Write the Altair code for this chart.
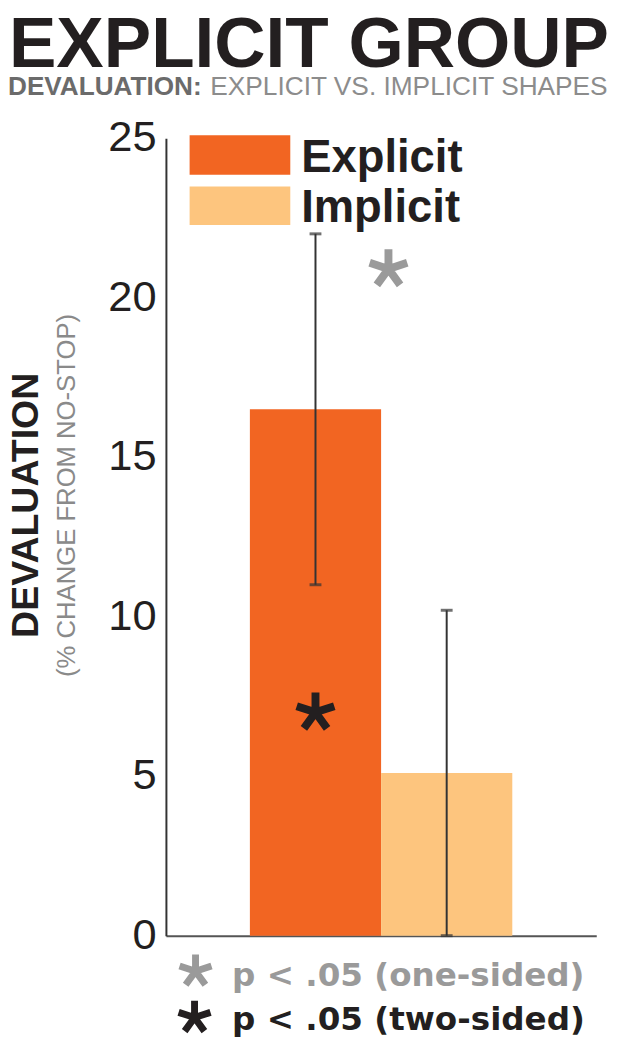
import altair as alt
import pandas as pd

# ---- data ----
conditions = ["Explicit", "Implicit"]
means = [16.5, 5.1]
err_low = [11.0, 0.0]
err_high = [22.0, 10.2]
bar_colors = ["#f26522", "#fdc57e"]
y_ticks = [0, 5, 10, 15, 20, 25]

star_conditions = ["Implicit", "Explicit"]
star_values = [20.9, 7.0]
star_colors = ["#9a9a9a", "#231f20"]
star_offsets = [-59, 0]

title_text = "EXPLICIT GROUP"
subtitle_bold = "DEVALUATION:"
subtitle_rest = "EXPLICIT VS. IMPLICIT SHAPES"
y_title = "DEVALUATION"
y_subtitle = "(% CHANGE FROM NO-STOP)"
note_labels = ["p < .05 (one-sided)", "p < .05 (two-sided)"]

SANS = "Liberation Sans, Arial, Helvetica"
STAR = ("M0,0L0,-1M0,0L0.951,-0.309M0,0L0.588,0.809"
        "M0,0L-0.588,0.809M0,0L-0.951,-0.309")

df = pd.DataFrame({"condition": conditions, "mean": means,
                   "lo": err_low, "hi": err_high})

x_scale = alt.Scale(domain=conditions, paddingInner=0, paddingOuter=0.64, align=0.5)
y_scale = alt.Scale(domain=[0, 25], nice=False, zero=True)
color_scale = alt.Scale(domain=conditions, range=bar_colors)

x_enc = alt.X("condition:N", scale=x_scale,
              axis=alt.Axis(labels=False, ticks=False, title=None,
                            domainColor="#555555", domainWidth=2))

bars = alt.Chart(df).mark_bar().encode(
    x=x_enc,
    y=alt.Y("mean:Q", scale=y_scale,
            axis=alt.Axis(values=y_ticks, ticks=False, grid=False, title=None,
                          labelFont=SANS, labelFontSize=44, labelColor="#231f20",
                          labelPadding=10, domainColor="#333333", domainWidth=2)),
    color=alt.Color("condition:N", scale=color_scale, legend=None),
)

err = alt.Chart(df).mark_rule(color="#333333", strokeWidth=2).encode(
    x=alt.X("condition:N", scale=x_scale),
    y=alt.Y("lo:Q", scale=y_scale), y2="hi:Q")
cap_lo = alt.Chart(df).mark_tick(color="#333333", size=12, thickness=3, orient="horizontal").encode(
    x=alt.X("condition:N", scale=x_scale), y=alt.Y("lo:Q", scale=y_scale))
cap_hi = alt.Chart(df).mark_tick(color="#333333", size=12, thickness=3, orient="horizontal").encode(
    x=alt.X("condition:N", scale=x_scale), y=alt.Y("hi:Q", scale=y_scale))

stars = []
for c, v, col, off in zip(star_conditions, star_values, star_colors, star_offsets):
    sdf = pd.DataFrame({"condition": [c], "value": [v]})
    stars.append(alt.Chart(sdf).mark_point(shape=STAR, filled=False, size=1600,
                                           strokeWidth=8, opacity=1, color=col,
                                           xOffset=off).encode(
        x=alt.X("condition:N", scale=x_scale), y=alt.Y("value:Q", scale=y_scale)))


def label(text, x, y, size, font=SANS, weight="normal", color="#231f20",
          angle=0, align="left", baseline="alphabetic"):
    d = pd.DataFrame({"t": [text]})
    return alt.Chart(d).mark_text(font=font, fontSize=size, fontWeight=weight,
                                  color=color, angle=angle, align=align,
                                  baseline=baseline).encode(
        x=alt.value(x), y=alt.value(y), text="t:N")


def swatch(x1, x2, y1, y2, color):
    d = pd.DataFrame({"k": [0]})
    return alt.Chart(d).mark_rect(color=color).encode(
        x=alt.value(x1), x2=alt.value(x2), y=alt.value(y1), y2=alt.value(y2))


def legend_star(x, y, color):
    d = pd.DataFrame({"k": [0]})
    return alt.Chart(d).mark_point(shape=STAR, filled=False, size=1156, strokeWidth=7,
                                   opacity=1, color=color).encode(
        x=alt.value(x), y=alt.value(y))


texts = [
    label(title_text, -159, -72, 72, weight="bold", color="#231f20"),
    label(subtitle_bold, -160, -44, 26.5, weight="bold", color="#6b6b6b"),
    label(subtitle_rest, 45, -44, 26.6, color="#8c8c8c"),
    label(y_title, -141, 372, 38, weight="bold", angle=270,
          align="center", baseline="middle"),
    label(y_subtitle, -100, 362, 26, color="#8a8a8a", angle=270,
          align="center", baseline="middle"),
    swatch(24, 126, -3, 37, bar_colors[0]),
    swatch(24, 126, 49, 88, bar_colors[1]),
    label(conditions[0], 137, 34, 46, weight="bold"),
    label(conditions[1], 137, 85, 46, weight="bold"),
    legend_star(30, 844, "#9a9a9a"),
    legend_star(29, 891, "#231f20"),
    label(note_labels[0], 67, 859, 33, font="DejaVu Sans", weight="bold", color="#9a9a9a"),
    label(note_labels[1], 67, 904, 33, font="DejaVu Sans", weight="bold", color="#231f20"),
]

chart = alt.layer(bars, err, cap_lo, cap_hi, *stars, *texts).properties(
    width=436, height=808,
    padding={"left": 160, "top": 125, "right": 20, "bottom": 110},
    autosize=alt.AutoSizeParams(type="none"),
).configure_view(stroke=None)

chart.save("out.html", embed_options={"renderer": "svg", "actions": False})
